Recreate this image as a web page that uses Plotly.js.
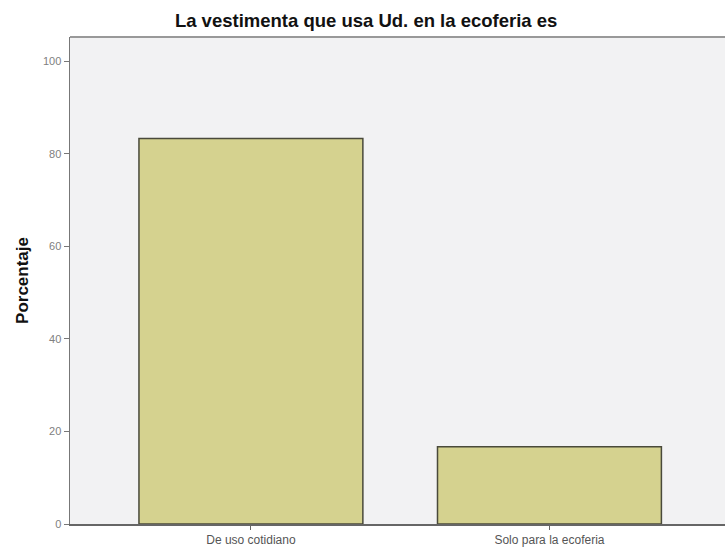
<!DOCTYPE html>
<html>
<head>
<meta charset="utf-8">
<script src="https://cdn.plot.ly/plotly-3.0.1.min.js"></script>
<style>html,body{margin:0;padding:0;background:#fff;}#chart{width:725px;height:548px;}</style>
</head>
<body>
<div id="chart"></div>
<script>
const categories = ["De uso cotidiano", "Solo para la ecoferia"];
const percentages = [83.3, 16.7];
const yTicks = [0, 20, 40, 60, 80, 100];

const trace = {
  type: "bar",
  x: categories,
  y: percentages,
  width: 0.75,
  marker: {color: "#d5d28f", line: {color: "#4a4a3a", width: 1.5}},
  hoverinfo: "x+y"
};

const layout = {
  width: 725,
  height: 548,
  margin: {l: 70, r: 0, t: 37, b: 24},
  paper_bgcolor: "#ffffff",
  plot_bgcolor: "#f2f2f3",
  title: {text: "<b>La vestimenta que usa Ud. en la ecoferia es</b>", font: {family: "Liberation Sans, Arial, sans-serif", size: 18.5, color: "#111"}, x: 0.505, xanchor: "center", y: 0.963, yanchor: "middle"},
  xaxis: {
    range: [-0.606, 1.588],
    showgrid: false,
    zeroline: false,
    showline: true, linecolor: "#666", linewidth: 1.5,
    ticks: "outside", ticklen: 4, tickcolor: "#666",
    tickfont: {family: "Liberation Sans, Arial, sans-serif", size: 12, color: "#555"},
    mirror: false
  },
  yaxis: {
    range: [0, 105.2],
    tickvals: yTicks,
    showgrid: false,
    zeroline: false,
    showline: true, linecolor: "#777", linewidth: 1.5,
    ticks: "outside", ticklen: 5, tickcolor: "#777",
    tickfont: {family: "Liberation Sans, Arial, sans-serif", size: 11, color: "#808080"},
    title: {text: "<b>Porcentaje</b>", font: {family: "Liberation Sans, Arial, sans-serif", size: 17, color: "#111"}, standoff: 10}
  },
  shapes: [
    {type: "line", xref: "paper", yref: "paper", x0: 0, x1: 1, y0: 1, y1: 1, line: {color: "#999", width: 2}}
  ],
  showlegend: false
};

Plotly.newPlot("chart", [trace], layout, {displayModeBar: false, staticPlot: true});
</script>
</body>
</html>
